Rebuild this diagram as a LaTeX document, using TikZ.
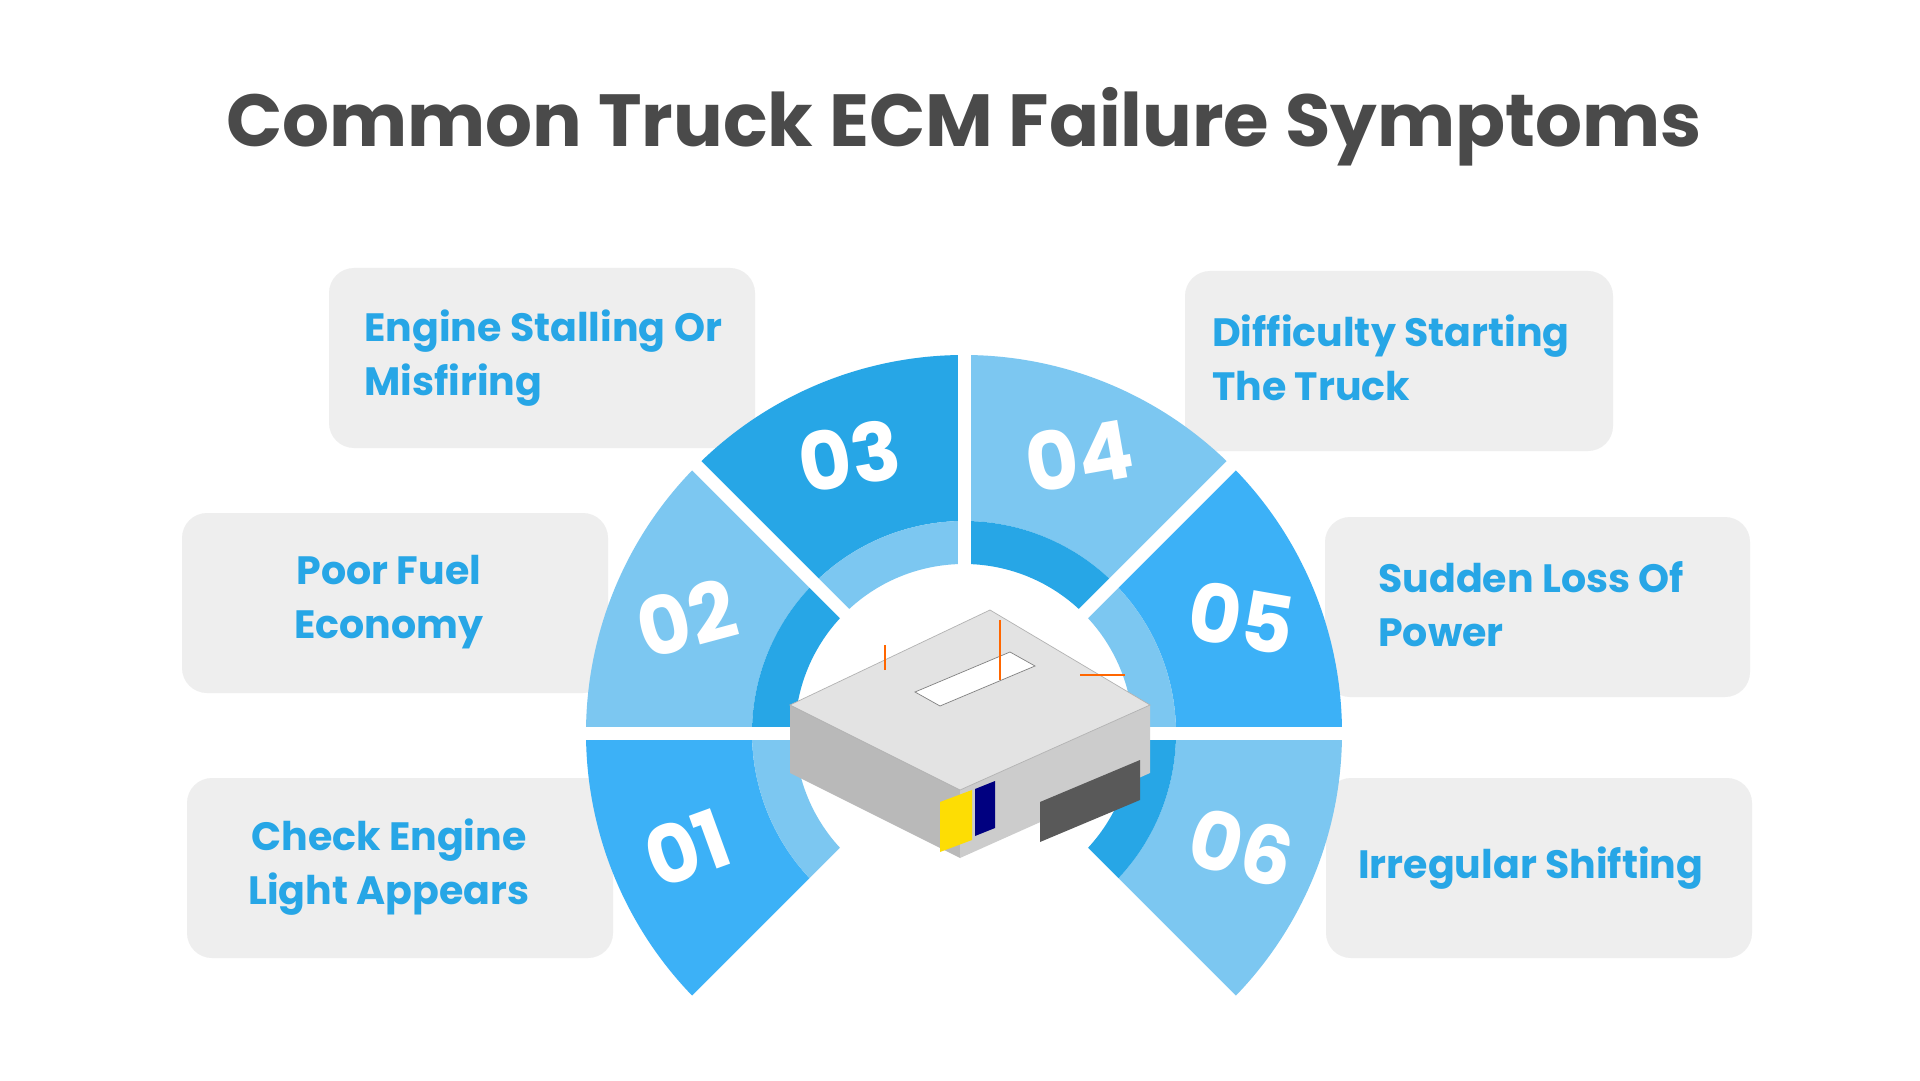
\documentclass[tikz,border=0pt]{standalone}
\usepackage{fontspec}
\setmainfont{Poppins}
\usetikzlibrary{calc}
\definecolor{bright}{HTML}{3CB1F7}
\definecolor{mid}{HTML}{27A6E6}
\definecolor{light}{HTML}{7CC7F1}
\definecolor{boxgray}{HTML}{EEEEEE}
\definecolor{titlegray}{HTML}{4A4A4A}
\tikzstyle{card}=[fill=boxgray, rounded corners=0.5cm]
\tikzstyle{cardtext}=[anchor=west, align=left, text=mid, font=\fontsize{22.5}{31}\selectfont\bfseries]
\tikzstyle{num}=[text=white, font=\fontsize{46}{46}\selectfont\bfseries]
\tikzstyle{gap}=[white, line width=0.26cm]
% sector: start angle, end angle, inner r, outer r, colour
\newcommand{\seg}[5]{\fill[#5] ($(O)+(#1:#3)$) -- ($(O)+(#1:#4)$) arc[start angle=#1, end angle=#2, radius=#4] -- ($(O)+(#2:#3)$) arc[start angle=#2, end angle=#1, radius=#3] -- cycle;}

\begin{document}
\begin{tikzpicture}[x=0.02cm, y=0.02cm]
    \useasboundingbox[fill=white] (0,0) rectangle (1920,1080);
    \coordinate (O) at (964,347);

    \node (title) [text=titlegray, font=\fontsize{42}{42}\selectfont\bfseries] at (964,953) {Common Truck ECM Failure Symptoms};

    % cards
    \fill[card] (329,632) rectangle (755,812);
    \fill[card] (1185,629) rectangle (1613,809);
    \fill[card] (182,387) rectangle (608,567);
    \fill[card] (1325,383) rectangle (1750,563);
    \fill[card] (187,122) rectangle (613,302);
    \fill[card] (1326,122) rectangle (1752,302);

    \node (t3) [cardtext] at (358,722) {Engine Stalling Or\\Misfiring};
    \node (t4) [cardtext] at (1206,722) {Difficulty Starting\\The Truck};
    \node (t2) [cardtext, align=center] at (288,478) {Poor Fuel\\Economy};
    \node (t5) [cardtext] at (1372,476) {Sudden Loss Of\\Power};
    \node (t1) [cardtext, align=center] at (242,213) {Check Engine\\Light Appears};
    \node (t6) [cardtext] at (1352,212) {Irregular Shifting};

    % ring
    \seg{180}{225}{212}{378}{bright} \seg{180}{225}{169}{212}{light}
    \seg{135}{180}{212}{378}{light}  \seg{135}{180}{169}{212}{mid}
    \seg{90}{135}{212}{378}{mid}     \seg{90}{135}{169}{212}{light}
    \seg{45}{90}{212}{378}{light}    \seg{45}{90}{169}{212}{mid}
    \seg{0}{45}{212}{378}{bright}    \seg{0}{45}{169}{212}{light}
    \seg{-45}{0}{212}{378}{light}    \seg{-45}{0}{169}{212}{mid}
    \foreach \a in {-45,0,45,90,135,180,225}
        \draw[gap] (O) -- ($(O)+(\a:385)$);
    \fill[white] (O) circle (160);

    \node (n1) [num, rotate=20]  at ($(O)+(202.5:300)$) {01};
    \node (n2) [num, rotate=15]  at ($(O)+(157.5:300)$) {02};
    \node (n3) [num, rotate=10]  at ($(O)+(112.5:300)$) {03};
    \node (n4) [num, rotate=10]  at ($(O)+(67.5:300)$) {04};
    \node (n5) [num, rotate=-10] at ($(O)+(22.5:300)$) {05};
    \node (n6) [num, rotate=-15] at ($(O)+(-22.5:300)$) {06};

    % ECM unit
    \fill[gray!55] (790,375) -- (960,290) -- (960,222) -- (790,307) -- cycle;
    \fill[gray!40] (960,290) -- (1150,375) -- (1150,307) -- (960,222) -- cycle;
    \fill[gray!22, draw=gray!60] (790,375) -- (990,470) -- (1150,375) -- (960,290) -- cycle;
    \fill[white, draw=gray] (915,388) -- (1010,428) -- (1035,414) -- (940,374) -- cycle;
    \fill[gray!70!black] (1040,278) -- (1140,320) -- (1140,280) -- (1040,238) -- cycle;
    \fill[yellow!80!orange] (940,278) -- (972,290) -- (972,240) -- (940,228) -- cycle;
    \fill[blue!50!black] (975,291) -- (995,299) -- (995,252) -- (975,244) -- cycle;
    \draw[orange!80!red, thick] (885,410) -- (885,435) (1000,400) -- (1000,460) (1080,405) -- (1125,405);
\end{tikzpicture}
\end{document}
